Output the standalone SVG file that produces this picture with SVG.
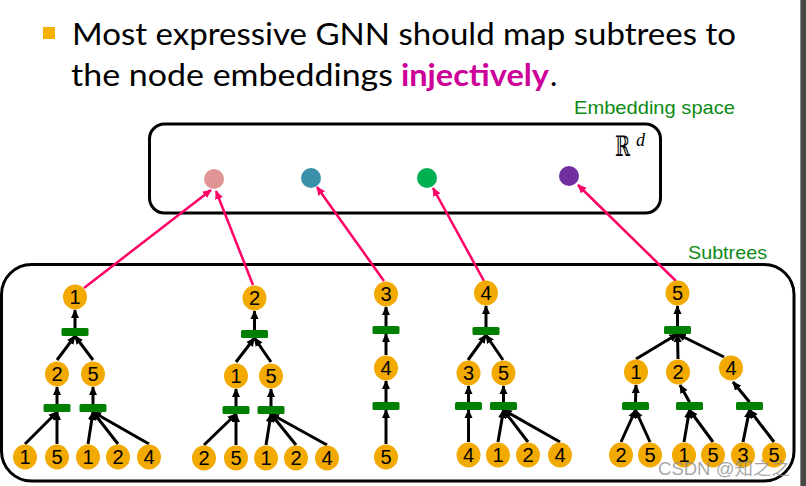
<svg xmlns="http://www.w3.org/2000/svg" width="806" height="486" viewBox="0 0 806 486">
<style>
.title{font-family:Lato,"Open Sans","Noto Sans",sans-serif;font-size:31px;fill:#000}
.lbl{font-family:"Liberation Sans",Arial,sans-serif;font-size:19px;fill:#0E8A16}
.n ellipse{fill:#F2A900}
.n text{font-family:"Liberation Sans",Arial,sans-serif;font-size:20px;fill:#000;text-anchor:middle}
.bar{fill:#007F00}
.e line{stroke:#000;stroke-width:3;fill:none;marker-end:url(#ah)}
.p line{stroke:#FF0066;stroke-width:2.5;fill:none;marker-end:url(#ph)}
.box{fill:none;stroke:#000;stroke-width:3}
</style>
<defs>
<marker id="ah" viewBox="0 0 10 10" refX="9" refY="5" markerWidth="9" markerHeight="9" markerUnits="userSpaceOnUse" orient="auto"><path d="M0,0.5 L10,5 L0,9.5 z" fill="#000"/></marker>
<marker id="ph" viewBox="0 0 10 10" refX="9" refY="5" markerWidth="9" markerHeight="9" markerUnits="userSpaceOnUse" orient="auto"><path d="M0,0.5 L10,5 L0,9.5 z" fill="#FF0066"/></marker>
</defs>
<rect width="806" height="486" fill="#fff"/>
<rect x="800" y="0" width="6" height="486" fill="#474747"/>
<rect x="800" y="0" width="1" height="486" fill="#8a8a8a"/>

<g id="title">
<rect x="43" y="27" width="12" height="12" fill="#F5B000"/>
<text class="title" x="72" y="45" textLength="664" lengthAdjust="spacingAndGlyphs">Most expressive GNN should map subtrees to</text>
<text class="title" x="71" y="86" textLength="322" lengthAdjust="spacingAndGlyphs">the node embeddings</text>
<text class="title" x="401" y="86" textLength="148" lengthAdjust="spacingAndGlyphs" style="font-weight:bold;fill:#CC0099">injectively</text>
<text class="title" x="550" y="86">.</text>
</g>

<g id="embedding-space">
<text class="lbl" x="574" y="114" textLength="161" lengthAdjust="spacingAndGlyphs">Embedding space</text>
<rect class="box" x="149.5" y="124" width="511" height="89" rx="15"/>
<text font-family="DejaVu Serif,serif" font-size="28"><tspan x="615" y="156" textLength="15" lengthAdjust="spacingAndGlyphs">ℝ</tspan><tspan x="636" y="146" font-family="Liberation Serif,serif" font-style="italic" font-size="18">d</tspan></text>
</g>
<g id="emb1"><circle cx="214" cy="179" r="10" fill="#E09494"/></g>
<g id="emb2"><circle cx="311" cy="178" r="10" fill="#3A90A8"/></g>
<g id="emb3"><circle cx="427" cy="178" r="10" fill="#00B050"/></g>
<g id="emb4"><circle cx="569" cy="176" r="10" fill="#7030A0"/></g>

<g id="subtrees">
<text class="lbl" x="688" y="259" textLength="79" lengthAdjust="spacingAndGlyphs">Subtrees</text>
<rect class="box" x="1.5" y="264.5" width="792.5" height="216.5" rx="30"/>
</g>

<g id="connectors">
<g class="e">
<line x1="75" y1="328" x2="75" y2="310"/>
<line x1="57" y1="360" x2="75" y2="336"/>
<line x1="93" y1="360" x2="75" y2="336"/>
<line x1="57" y1="404" x2="57" y2="387"/>
<line x1="93" y1="404" x2="93" y2="387"/>
<line x1="25" y1="444" x2="57" y2="412"/>
<line x1="57" y1="444" x2="57" y2="412"/>
<line x1="88" y1="444" x2="93" y2="412"/>
<line x1="118" y1="444" x2="93" y2="412"/>
<line x1="149" y1="444" x2="93" y2="412"/>
<line x1="254.5" y1="330" x2="254.5" y2="311"/>
<line x1="236" y1="362" x2="254.5" y2="338"/>
<line x1="271" y1="362" x2="254.5" y2="338"/>
<line x1="236" y1="406" x2="236" y2="389"/>
<line x1="271" y1="406" x2="271" y2="389"/>
<line x1="204" y1="445" x2="236" y2="414"/>
<line x1="236" y1="445" x2="236" y2="414"/>
<line x1="266" y1="445" x2="271" y2="414"/>
<line x1="296" y1="445" x2="271" y2="414"/>
<line x1="327" y1="445" x2="271" y2="414"/>
<line x1="386" y1="326" x2="386" y2="307"/>
<line x1="386" y1="355" x2="386" y2="334"/>
<line x1="386" y1="402" x2="386" y2="381"/>
<line x1="386" y1="444" x2="386" y2="410"/>
<line x1="486" y1="327" x2="486" y2="306"/>
<line x1="468" y1="360" x2="486" y2="335"/>
<line x1="503" y1="360" x2="486" y2="335"/>
<line x1="468.5" y1="402" x2="468.5" y2="386"/>
<line x1="503.5" y1="402" x2="503.5" y2="386"/>
<line x1="468.5" y1="442" x2="468.5" y2="410"/>
<line x1="498" y1="442" x2="503.5" y2="410"/>
<line x1="528" y1="442" x2="503.5" y2="410"/>
<line x1="560" y1="442" x2="503.5" y2="410"/>
<line x1="677.5" y1="326" x2="677.5" y2="306"/>
<line x1="636" y1="359" x2="677.5" y2="334"/>
<line x1="678" y1="359" x2="677.5" y2="334"/>
<line x1="724" y1="357" x2="677.5" y2="334"/>
<line x1="635.5" y1="402" x2="636" y2="385"/>
<line x1="689.5" y1="402" x2="680" y2="385"/>
<line x1="749.5" y1="402" x2="733" y2="382"/>
<line x1="621" y1="442" x2="635.5" y2="410"/>
<line x1="650" y1="442" x2="635.5" y2="410"/>
<line x1="684" y1="442" x2="689.5" y2="410"/>
<line x1="713" y1="442" x2="689.5" y2="410"/>
<line x1="743" y1="442" x2="749.5" y2="410"/>
<line x1="774" y1="442" x2="749.5" y2="410"/>
</g>
<g class="p">
<line x1="84" y1="288" x2="211" y2="190"/>
<line x1="253" y1="285" x2="216" y2="191"/>
<line x1="384" y1="281" x2="317" y2="187"/>
<line x1="484" y1="281" x2="433" y2="188"/>
<line x1="676" y1="281" x2="578" y2="185"/>
</g>
</g>

<g id="t1k0"><rect class="bar" x="61.5" y="328" width="27" height="8" rx="1.5"/></g>
<g id="t1k1"><rect class="bar" x="43.5" y="404" width="27" height="8" rx="1.5"/></g>
<g id="t1k2"><rect class="bar" x="79.5" y="404" width="27" height="8" rx="1.5"/></g>
<g id="t2k0"><rect class="bar" x="241" y="330" width="27" height="8" rx="1.5"/></g>
<g id="t2k1"><rect class="bar" x="222.5" y="406" width="27" height="8" rx="1.5"/></g>
<g id="t2k2"><rect class="bar" x="257.5" y="406" width="27" height="8" rx="1.5"/></g>
<g id="t3k0"><rect class="bar" x="372.5" y="326" width="27" height="8" rx="1.5"/></g>
<g id="t3k1"><rect class="bar" x="372.5" y="402" width="27" height="8" rx="1.5"/></g>
<g id="t4k0"><rect class="bar" x="472.5" y="327" width="27" height="8" rx="1.5"/></g>
<g id="t4k1"><rect class="bar" x="455" y="402" width="27" height="8" rx="1.5"/></g>
<g id="t4k2"><rect class="bar" x="490" y="402" width="27" height="8" rx="1.5"/></g>
<g id="t5k0"><rect class="bar" x="664" y="326" width="27" height="8" rx="1.5"/></g>
<g id="t5k1"><rect class="bar" x="622" y="402" width="27" height="8" rx="1.5"/></g>
<g id="t5k2"><rect class="bar" x="676" y="402" width="27" height="8" rx="1.5"/></g>
<g id="t5k3"><rect class="bar" x="736" y="402" width="27" height="8" rx="1.5"/></g>

<g id="t1r" class="n"><ellipse cx="75" cy="297" rx="12" ry="12.5"/><text x="75" y="304">1</text></g>
<g id="t1a" class="n"><ellipse cx="57" cy="374" rx="12" ry="12.5"/><text x="57" y="381">2</text></g>
<g id="t1b" class="n"><ellipse cx="93" cy="374" rx="12" ry="12.5"/><text x="93" y="381">5</text></g>
<g id="t1l1" class="n"><ellipse cx="25" cy="457" rx="12" ry="12.5"/><text x="25" y="464">1</text></g>
<g id="t1l2" class="n"><ellipse cx="57" cy="457" rx="12" ry="12.5"/><text x="57" y="464">5</text></g>
<g id="t1l3" class="n"><ellipse cx="88" cy="457" rx="12" ry="12.5"/><text x="88" y="464">1</text></g>
<g id="t1l4" class="n"><ellipse cx="118" cy="457" rx="12" ry="12.5"/><text x="118" y="464">2</text></g>
<g id="t1l5" class="n"><ellipse cx="149" cy="457" rx="12" ry="12.5"/><text x="149" y="464">4</text></g>
<g id="t2r" class="n"><ellipse cx="254.5" cy="298" rx="12" ry="12.5"/><text x="254.5" y="305">2</text></g>
<g id="t2a" class="n"><ellipse cx="236" cy="376" rx="12" ry="12.5"/><text x="236" y="383">1</text></g>
<g id="t2b" class="n"><ellipse cx="271" cy="376" rx="12" ry="12.5"/><text x="271" y="383">5</text></g>
<g id="t2l1" class="n"><ellipse cx="204" cy="458" rx="12" ry="12.5"/><text x="204" y="465">2</text></g>
<g id="t2l2" class="n"><ellipse cx="236" cy="458" rx="12" ry="12.5"/><text x="236" y="465">5</text></g>
<g id="t2l3" class="n"><ellipse cx="266" cy="458" rx="12" ry="12.5"/><text x="266" y="465">1</text></g>
<g id="t2l4" class="n"><ellipse cx="296" cy="458" rx="12" ry="12.5"/><text x="296" y="465">2</text></g>
<g id="t2l5" class="n"><ellipse cx="327" cy="458" rx="12" ry="12.5"/><text x="327" y="465">4</text></g>
<g id="t3r" class="n"><ellipse cx="386" cy="294" rx="12" ry="12.5"/><text x="386" y="301">3</text></g>
<g id="t3a" class="n"><ellipse cx="386" cy="368" rx="12" ry="12.5"/><text x="386" y="375">4</text></g>
<g id="t3l1" class="n"><ellipse cx="386" cy="457" rx="12" ry="12.5"/><text x="386" y="464">5</text></g>
<g id="t4r" class="n"><ellipse cx="486" cy="293" rx="12" ry="12.5"/><text x="486" y="300">4</text></g>
<g id="t4a" class="n"><ellipse cx="468.5" cy="373" rx="12" ry="12.5"/><text x="468.5" y="380">3</text></g>
<g id="t4b" class="n"><ellipse cx="503.5" cy="373" rx="12" ry="12.5"/><text x="503.5" y="380">5</text></g>
<g id="t4l1" class="n"><ellipse cx="468.5" cy="455" rx="12" ry="12.5"/><text x="468.5" y="462">4</text></g>
<g id="t4l2" class="n"><ellipse cx="498" cy="455" rx="12" ry="12.5"/><text x="498" y="462">1</text></g>
<g id="t4l3" class="n"><ellipse cx="528" cy="455" rx="12" ry="12.5"/><text x="528" y="462">2</text></g>
<g id="t4l4" class="n"><ellipse cx="560" cy="455" rx="12" ry="12.5"/><text x="560" y="462">4</text></g>
<g id="t5r" class="n"><ellipse cx="677.5" cy="293" rx="12" ry="12.5"/><text x="677.5" y="300">5</text></g>
<g id="t5a" class="n"><ellipse cx="636" cy="372" rx="12" ry="12.5"/><text x="636" y="379">1</text></g>
<g id="t5b" class="n"><ellipse cx="678" cy="372" rx="12" ry="12.5"/><text x="678" y="379">2</text></g>
<g id="t5c" class="n"><ellipse cx="731" cy="368" rx="12" ry="12.5"/><text x="731" y="375">4</text></g>
<g id="t5l1" class="n"><ellipse cx="621" cy="455" rx="12" ry="12.5"/><text x="621" y="462">2</text></g>
<g id="t5l2" class="n"><ellipse cx="650" cy="455" rx="12" ry="12.5"/><text x="650" y="462">5</text></g>
<g id="t5l3" class="n"><ellipse cx="684" cy="455" rx="12" ry="12.5"/><text x="684" y="462">1</text></g>
<g id="t5l4" class="n"><ellipse cx="713" cy="455" rx="12" ry="12.5"/><text x="713" y="462">5</text></g>
<g id="t5l5" class="n"><ellipse cx="743" cy="455" rx="12" ry="12.5"/><text x="743" y="462">3</text></g>
<g id="t5l6" class="n"><ellipse cx="774" cy="455" rx="12" ry="12.5"/><text x="774" y="462">5</text></g>

<text x="658" y="475" font-family="Liberation Sans,Noto Sans CJK SC,sans-serif" font-size="18" fill="#8c8c8c" fill-opacity="0.75" textLength="132" lengthAdjust="spacingAndGlyphs">CSDN @知之之</text>
</svg>
